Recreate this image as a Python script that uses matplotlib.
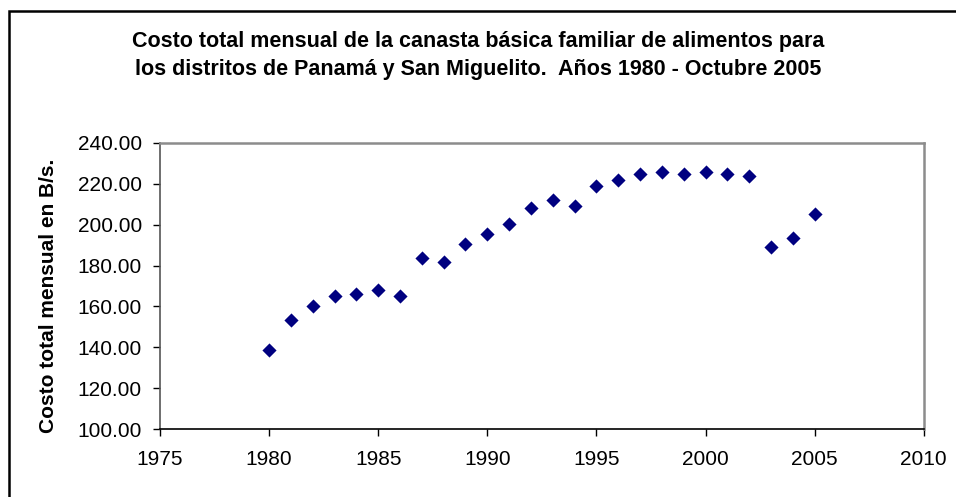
import matplotlib.pyplot as plt
from matplotlib.patches import Rectangle

plt.rcParams['font.family'] = ['Liberation Sans', 'DejaVu Sans']

# Data
years = list(range(1980, 2006))
costo = [138.7, 153.5, 160.4, 165.3, 166.3, 168.2, 165.3, 183.5, 181.9, 190.4,
         195.4, 200.3, 208.0, 212.0, 209.1, 218.9, 221.8, 224.7, 225.6, 224.7,
         225.7, 224.7, 223.7, 189.2, 193.3, 205.2]
x_ticks = [1975, 1980, 1985, 1990, 1995, 2000, 2005, 2010]
y_ticks = [100, 120, 140, 160, 180, 200, 220, 240]

fig = plt.figure(figsize=(9.56, 4.97), dpi=100)
ax = fig.add_axes([0.1674, 0.1362, 0.7988, 0.5767])

# outer chart border
fig.patches.append(Rectangle((9 / 956, -0.1), 1.2, 1 - 11 / 497 + 0.1,
                             transform=fig.transFigure, fill=False,
                             edgecolor='black', linewidth=1.8))

ax.scatter(years, costo, marker='D', s=52, color='#000080', zorder=3, linewidths=0)

ax.set_xlim(1975, 2010)
ax.set_ylim(100, 240)
ax.set_xticks(x_ticks)
ax.set_yticks(y_ticks)
ax.set_yticklabels(['%.2f' % v for v in y_ticks])
ax.tick_params(axis='both', direction='out', length=5, width=1,
               labelsize=15, color='black')
ax.tick_params(axis='y', pad=8)
ax.tick_params(axis='x', pad=10)

for s in ['top', 'right']:
    ax.spines[s].set_color('#8c8c8c')
    ax.spines[s].set_linewidth(1.8)
ax.spines['left'].set_color('#555555')
ax.spines['left'].set_linewidth(1.2)
ax.spines['bottom'].set_color('black')
ax.spines['bottom'].set_linewidth(1.2)

ax.set_ylabel('Costo total mensual en B/s.', fontsize=15, fontweight='bold')
ax.yaxis.set_label_coords(-0.133, 0.465)

fig.text(0.5, 1 - 41 / 497,
         'Costo total mensual de la canasta básica familiar de alimentos para',
         ha='center', va='center', fontsize=15.5, fontweight='bold')
fig.text(0.5, 1 - 70 / 497,
         'los distritos de Panamá y San Miguelito.  Años 1980 - Octubre 2005',
         ha='center', va='center', fontsize=15.5, fontweight='bold')

fig.savefig('out.png', dpi=100, facecolor='white')
